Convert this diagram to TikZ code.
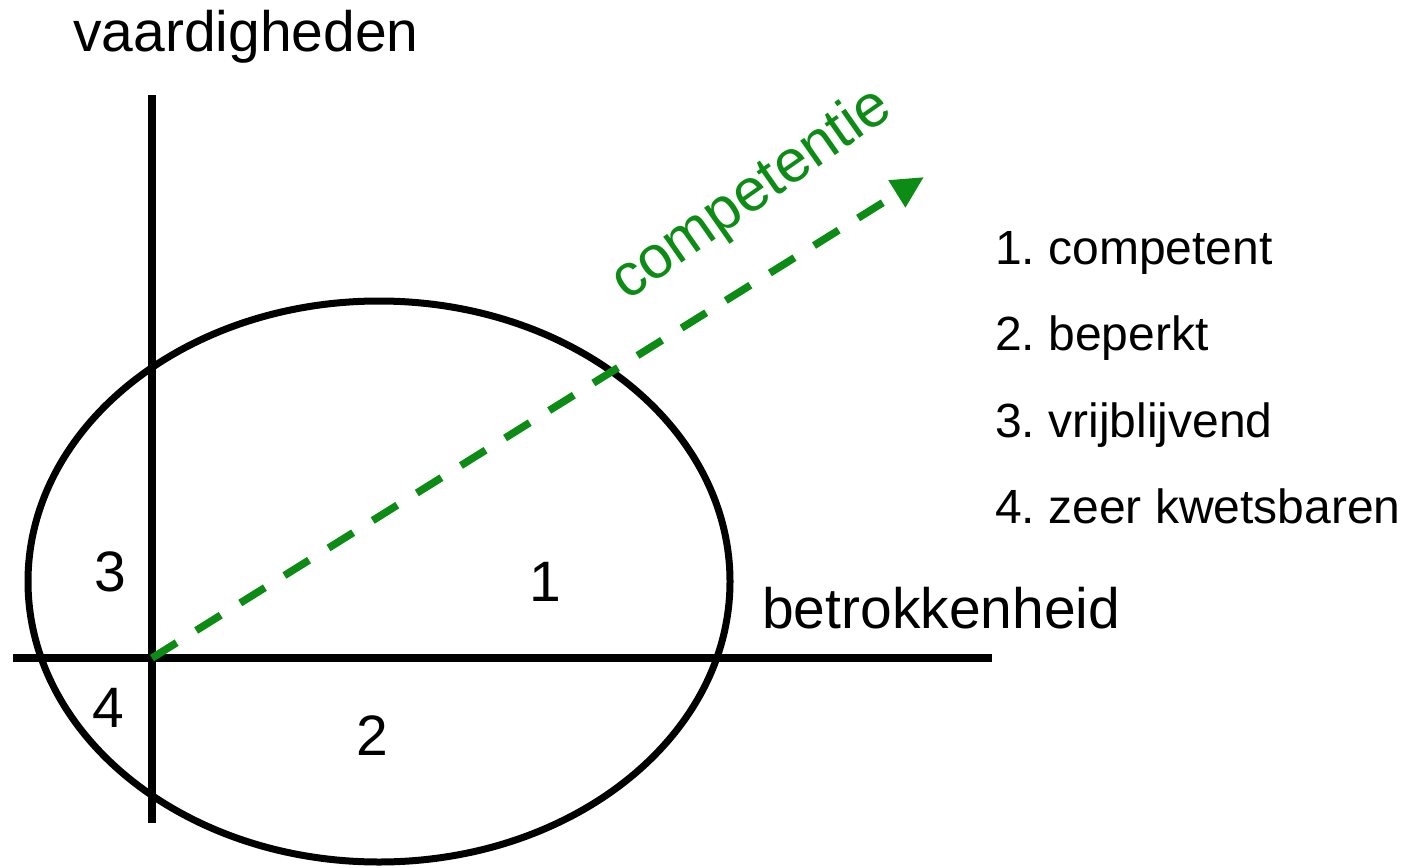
\documentclass[tikz,border=0pt]{standalone}
\usepackage{fontspec}
\setmainfont{Liberation Sans}
\usetikzlibrary{arrows.meta}
\definecolor{compgreen}{RGB}{12,140,20}
\begin{document}
\begin{tikzpicture}[x=1pt,y=-1pt,
  axis/.style={line width=7.5pt},
  ring/.style={line width=7pt},
  lbl/.style={inner sep=0pt, font=\fontsize{57}{68}\selectfont},
  item/.style={inner sep=0pt, anchor=base west, font=\fontsize{48}{58}\selectfont},
  digit/.style={inner sep=0pt, font=\fontsize{57}{68}\selectfont},
  comp/.style={draw=compgreen, line width=7.5pt, dash pattern=on 29pt off 23pt,
    -{Triangle[length=32pt,width=30pt,fill=compgreen]}}]
\useasboundingbox (0,0) rectangle (1410,867);
\coordinate (O) at (152,658);
\coordinate (vtop) at (152,95);
\coordinate (vbot) at (152,823);
\coordinate (hleft) at (13,658);
\coordinate (hright) at (992,658);
\coordinate (tip) at (924,177);
\coordinate (ec) at (379,581.5);
\draw[ring] (ec) ellipse [x radius=351pt, y radius=280.5pt];
\draw[axis] (vtop) -- (vbot);
\draw[axis] (hleft) -- (hright);
\draw[comp] (O) -- (tip);
\node[lbl, anchor=base west] (vaard) at (73,52) {vaardigheden};
\node[lbl, anchor=base west] (betr) at (762,628) {betrokkenheid};
\node[inner sep=0pt, font=\fontsize{60}{72}\selectfont, text=compgreen, rotate=35] (compt) at (752,195) {competentie};
\node[digit] (q3) at (110,572) {3};
\node[digit] (q1) at (545,582) {1};
\node[digit] (q4) at (108,708) {4};
\node[digit] (q2) at (372,736) {2};
\node[item] (i1) at (995,264) {1.\ competent};
\node[item] (i2) at (995,350) {2.\ beperkt};
\node[item] (i3) at (995,437) {3.\ vrijblijvend};
\node[item] (i4) at (995,523) {4.\ zeer kwetsbaren};
\end{tikzpicture}
\end{document}
